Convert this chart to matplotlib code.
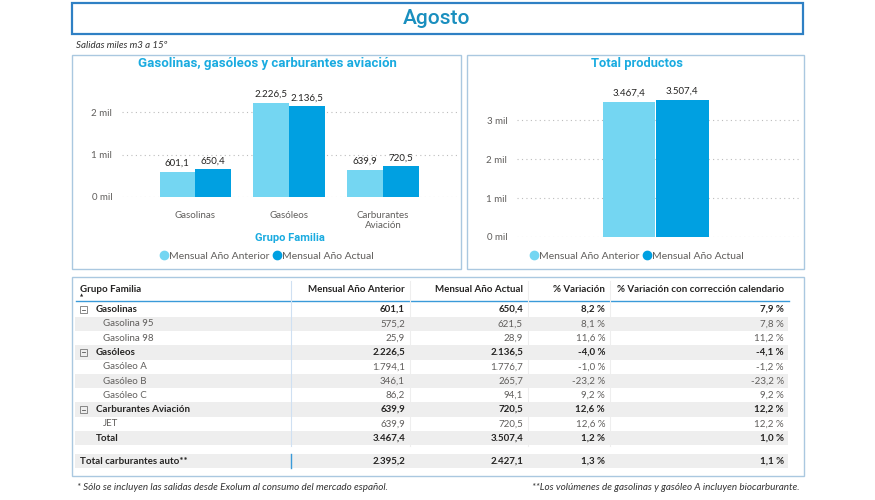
import matplotlib
matplotlib.use("Agg")
import matplotlib.pyplot as plt
from matplotlib.patches import Rectangle
from matplotlib.lines import Line2D

W, H = 875, 500

# chart data (miles m3)
categorias = ["Gasolinas", "Gasóleos", "Carburantes\nAviación"]
graf_anterior = [601.1, 2226.5, 639.9]
graf_actual = [650.4, 2136.5, 720.5]
total_anterior = 3467.4
total_actual = 3507.4

# table data
filas = ["Gasolinas", "Gasolina 95", "Gasolina 98", "Gasóleos", "Gasóleo A",
         "Gasóleo B", "Gasóleo C", "Carburantes Aviación", "JET", "Total"]
niveles = ["g", "c", "c", "g", "c", "c", "c", "g", "c", "t"]
mes_anterior = [601.1, 575.2, 25.9, 2226.5, 1794.1, 346.1, 86.2, 639.9, 639.9, 3467.4]
mes_actual = [650.4, 621.5, 28.9, 2136.5, 1776.7, 265.7, 94.1, 720.5, 720.5, 3507.4]
variacion = [8.2, 8.1, 11.6, -4.0, -1.0, -23.2, 9.2, 12.6, 12.6, 1.2]
variacion_cal = [7.9, 7.8, 11.2, -4.1, -1.2, -23.2, 9.2, 12.2, 12.2, 1.0]
auto_fila = ["Total carburantes auto**", 2395.2, 2427.1, 1.3, 1.1]

ticks_izq = [0, 1000, 2000]
ticks_der = [0, 1000, 2000, 3000]

C_ANT = "#74d6f2"
C_ACT = "#00a0e1"
C_TIT = "#1aabe0"
C_TXT = "#252423"
C_GRIS = "#605e5c"
C_BORDE = "#aac8e0"
TAB_FS = 7

plt.rcParams["font.family"] = ["Lato", "DejaVu Sans"]


def fx(x):
    return x / W


def fy(y):
    return 1 - y / H


def num(v):
    s = f"{v:,.1f}"
    return s.replace(",", "X").replace(".", ",").replace("X", ".")


def pct(v):
    return num(v) + " %"


def caja(fig, x0, y0, x1, y1, color, lw=1.0):
    fig.add_artist(Rectangle((fx(x0), fy(y1)), fx(x1) - fx(x0), fy(y0) - fy(y1),
                             transform=fig.transFigure, fill=False,
                             edgecolor=color, linewidth=lw))


def relleno(fig, x0, y0, x1, y1, color):
    fig.add_artist(Rectangle((fx(x0), fy(y1)), fx(x1) - fx(x0), fy(y0) - fy(y1),
                             transform=fig.transFigure, facecolor=color,
                             edgecolor="none", zorder=0))


def estilo_eje(ax, ticks):
    for s in ax.spines.values():
        s.set_visible(False)
    ax.set_yticks(ticks)
    ax.set_yticklabels([f"{int(t / 1000)} mil" for t in ticks])
    ax.tick_params(length=0, labelsize=7, labelcolor=C_GRIS)
    ax.tick_params(axis="y", pad=7)
    ax.yaxis.grid(True, linestyle=(0, (1, 3)), color="#bdbdbd", linewidth=0.8)
    ax.set_axisbelow(True)


fig = plt.figure(figsize=(W / 100, H / 100), dpi=100)

# header
caja(fig, 72, 3, 803, 34, "#2f80c4", lw=1.6)
fig.text(fx(437), fy(19), "Agosto", ha="center", va="center", fontsize=15,
         fontweight="medium", color="#1a8fbf", family=["Roboto", "DejaVu Sans"])
fig.text(fx(76), fy(45), "Salidas miles m3 a 15º", ha="left", va="center",
         fontsize=7, style="italic", color="#333333")

# left chart
caja(fig, 72, 55, 461, 269, C_BORDE)
fig.text(fx(267), fy(63), "Gasolinas, gasóleos y carburantes aviación",
         ha="center", va="center", fontsize=9.5, fontweight="bold", color=C_TIT,
         family=["Roboto", "DejaVu Sans"])
ax1 = fig.add_axes([fx(122), fy(197), (458 - 122) / W, (197 - 91) / H])
xs = list(range(len(categorias)))
ancho = 0.38
b1 = ax1.bar([x - ancho / 2 for x in xs], graf_anterior, ancho, color=C_ANT)
b2 = ax1.bar([x + ancho / 2 for x in xs], graf_actual, ancho, color=C_ACT)
for barras in (b1, b2):
    for r in barras:
        ax1.annotate(num(r.get_height()), (r.get_x() + r.get_width() / 2, r.get_height()),
                     xytext=(0, 3), textcoords="offset points", ha="center",
                     va="bottom", fontsize=7, color=C_TXT)
ax1.set_xlim(-0.78, 2.8)
ax1.set_ylim(0, 2500)
estilo_eje(ax1, ticks_izq)
ax1.set_xticks(xs)
ax1.set_xticklabels(categorias)
ax1.tick_params(axis="x", pad=10)
fig.text(fx(290), fy(238), "Grupo Familia", ha="center", va="center",
         fontsize=8, fontweight="bold", color=C_TIT, family=["Roboto", "DejaVu Sans"])

# right chart
caja(fig, 467, 55, 804, 269, C_BORDE)
fig.text(fx(637), fy(64), "Total productos", ha="center", va="center",
         fontsize=9.3, fontweight="bold", color=C_TIT, family=["Roboto", "DejaVu Sans"])
ax2 = fig.add_axes([fx(517), fy(237), (800 - 517) / W, (237 - 85) / H])
r1 = ax2.bar([-0.265], [total_anterior], 0.52, color=C_ANT)
r2 = ax2.bar([0.265], [total_actual], 0.53, color=C_ACT)
for barras in (r1, r2):
    for r in barras:
        ax2.annotate(num(r.get_height()), (r.get_x() + r.get_width() / 2, r.get_height()),
                     xytext=(0, 3), textcoords="offset points", ha="center",
                     va="bottom", fontsize=7, color=C_TXT)
ax2.set_xlim(-1.385, 1.445)
ax2.set_ylim(0, 3900)
estilo_eje(ax2, ticks_der)
ax2.set_xticks([])

# legends
manejadores = [Line2D([], [], marker="o", linestyle="none", markersize=6,
                      markerfacecolor=c, markeredgecolor=c) for c in (C_ANT, C_ACT)]
etiquetas = ["Mensual Año Anterior", "Mensual Año Actual"]
for cx in (267, 637):
    fig.legend(manejadores, etiquetas, loc="center", bbox_to_anchor=(fx(cx), fy(256)),
               ncol=2, frameon=False, fontsize=7.5, handlelength=0.7,
               handletextpad=0.15, columnspacing=0.3, labelcolor=C_GRIS,
               borderpad=0)

# table
caja(fig, 72, 277, 804, 476, C_BORDE)
col_der = [405, 523, 605, 784]
cabecera = ["Mensual Año Anterior", "Mensual Año Actual", "% Variación",
            "% Variación con corrección calendario"]
fig.text(fx(80), fy(289), "Grupo Familia", ha="left", va="center", fontsize=TAB_FS,
         fontweight="bold", color=C_TXT)
fig.text(fx(80), fy(295.5), "▲", ha="left", va="center", fontsize=3, color=C_TXT,
         family=["DejaVu Sans"])
for x, t in zip(col_der, cabecera):
    fig.text(fx(x), fy(289), t, ha="right", va="center", fontsize=TAB_FS,
             fontweight="bold", color=C_TXT)
fig.add_artist(Line2D([fx(76), fx(789)], [fy(301), fy(301)], color="#3a9ad9",
                      linewidth=1.0, transform=fig.transFigure))
for x in (410, 528, 610):
    fig.add_artist(Line2D([fx(x), fx(x)], [fy(281), fy(446)], color="#eeeeee",
                          linewidth=0.8, transform=fig.transFigure))
fig.add_artist(Line2D([fx(291), fx(291)], [fy(281), fy(446)], color="#cfe0f2",
                      linewidth=0.8, transform=fig.transFigure))

paso = 14.3
for i, nombre in enumerate(filas):
    y = 309.5 + i * paso
    if i % 2 == 1:
        relleno(fig, 75, y - paso / 2, 788, y + paso / 2, "#eeeeee")
    nivel = niveles[i]
    peso = "bold" if nivel in ("g", "t") else "normal"
    color = C_TXT if nivel in ("g", "t") else C_GRIS
    if nivel == "g":
        fig.add_artist(Rectangle((fx(80), fy(y + 3.5)), 7 / W, 7 / H,
                                 transform=fig.transFigure, fill=False,
                                 edgecolor="#777777", linewidth=0.6))
        fig.add_artist(Line2D([fx(81.8), fx(85.2)], [fy(y), fy(y)], color="#555555",
                              linewidth=0.6, transform=fig.transFigure))
        xt = 96
    elif nivel == "t":
        xt = 96
    else:
        xt = 103
    fig.text(fx(xt), fy(y), nombre, ha="left", va="center", fontsize=TAB_FS,
             fontweight=peso, color=color)
    valores = [num(mes_anterior[i]), num(mes_actual[i]), pct(variacion[i]),
               pct(variacion_cal[i])]
    for x, v in zip(col_der, valores):
        fig.text(fx(x), fy(y), v, ha="right", va="center", fontsize=TAB_FS,
                 fontweight=peso, color=color)

ya = 461
relleno(fig, 75, ya - 7, 788, ya + 7, "#eeeeee")
fig.add_artist(Line2D([fx(291), fx(291)], [fy(ya - 7), fy(ya + 7)], color="#3a9ad9",
                      linewidth=1.0, transform=fig.transFigure))
fig.text(fx(80), fy(ya), auto_fila[0], ha="left", va="center", fontsize=TAB_FS,
         fontweight="bold", color=C_TXT)
vals_auto = [num(auto_fila[1]), num(auto_fila[2]), pct(auto_fila[3]), pct(auto_fila[4])]
for x, v in zip(col_der, vals_auto):
    fig.text(fx(x), fy(ya), v, ha="right", va="center", fontsize=TAB_FS,
             fontweight="bold", color=C_TXT)

# footnotes
fig.text(fx(77), fy(487), "* Sólo se incluyen las salidas desde Exolum al consumo del mercado español.",
         ha="left", va="center", fontsize=7.1, style="italic", color="#333333")
fig.text(fx(800), fy(487), "**Los volúmenes de gasolinas y gasóleo A incluyen biocarburante.",
         ha="right", va="center", fontsize=7.1, style="italic", color="#333333")

fig.savefig("out.png", dpi=100)
